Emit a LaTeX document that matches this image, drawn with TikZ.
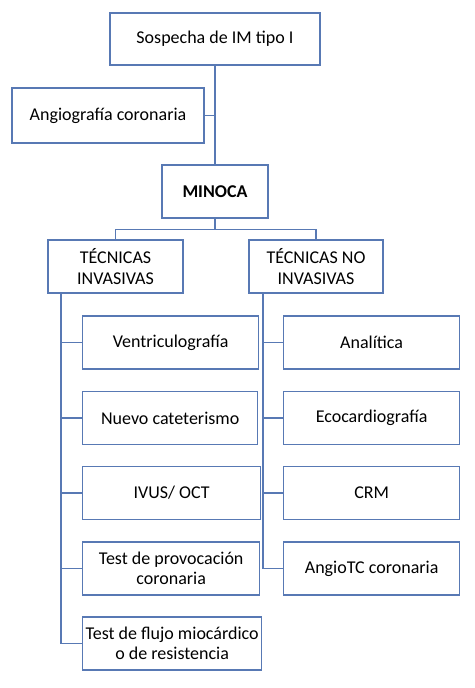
\documentclass[tikz,border=0pt]{standalone}
\usepackage{fontspec}
\setmainfont{Carlito}
\usepackage{xcolor}
\definecolor{boxblue}{RGB}{88,121,180}

\begin{document}
\begin{tikzpicture}[x=1pt,y=-1pt,
    box/.style={draw=boxblue, line width=1.3pt, fill=white, align=center,
        inner sep=2pt, font=\fontsize{18}{20.5}\selectfont},
    link/.style={boxblue, line width=1.3pt}]
    \useasboundingbox (0,0) rectangle (474,688);

    % Top of the tree
    \node[box, minimum width=210, minimum height=52] (sosp) at (215,39) {Sospecha de IM tipo I};
    \node[box, minimum width=192, minimum height=55] (angio) at (108,115.5) {Angiografía coronaria};
    \node[box, minimum width=106, minimum height=53] (minoca) at (215,191.5) {\textbf{MINOCA}};

    % The two groups
    \node[box, minimum width=135, minimum height=53] (inv) at (115.5,266.5) {TÉCNICAS\\INVASIVAS};
    \node[box, minimum width=134, minimum height=53] (noinv) at (316,266.5) {TÉCNICAS NO\\INVASIVAS};

    % Invasive techniques
    \node[box, anchor=west, minimum width=176, minimum height=53] (vent) at (82,342.5) {Ventriculografía};
    \node[box, anchor=west, minimum width=175, minimum height=53] (cat) at (82,418) {Nuevo cateterismo};
    \node[box, anchor=west, minimum width=178, minimum height=53] (ivus) at (82,493) {IVUS/ OCT};
    \node[box, anchor=west, minimum width=177, minimum height=53] (prov) at (82,568.5) {Test de provocación\\coronaria};
    \node[box, anchor=west, minimum width=179, minimum height=53] (flujo) at (82,643.5) {Test de flujo miocárdico\\o de resistencia};

    % Non-invasive techniques
    \node[box, anchor=west, minimum width=176, minimum height=53] (anal) at (283,342.5) {Analítica};
    \node[box, anchor=west, minimum width=176, minimum height=53] (eco) at (283,418) {Ecocardiografía};
    \node[box, anchor=west, minimum width=176, minimum height=53] (crm) at (283,493) {CRM};
    \node[box, anchor=west, minimum width=176, minimum height=53] (angiotc) at (283,568.5) {AngioTC coronaria};

    % Connectors
    \draw[link] (sosp.south) -- (minoca.north);
    \draw[link] (angio.east) -- (angio.east -| sosp.south);
    \draw[link] (minoca.south) -- ++(0,11) -| (inv.north);
    \draw[link] (minoca.south) -- ++(0,11) -| (noinv.north);

    \coordinate (lspine) at (61,293);
    \coordinate (rspine) at (263,293);
    \foreach \n in {vent,cat,ivus,prov,flujo}
        \draw[link] (lspine) |- (\n.west);
    \foreach \n in {anal,eco,crm,angiotc}
        \draw[link] (rspine) |- (\n.west);
\end{tikzpicture}
\end{document}
